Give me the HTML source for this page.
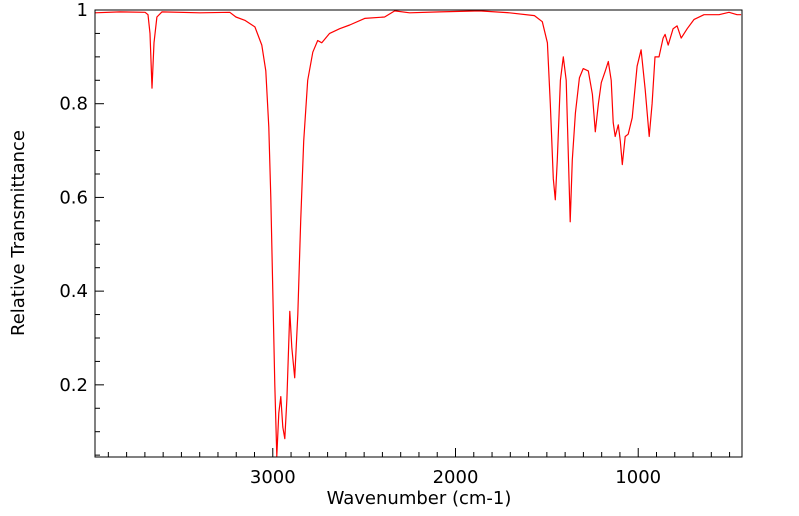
<!DOCTYPE html>
<html><head><meta charset="utf-8"><style>
html,body{margin:0;padding:0;background:#fff;width:799px;height:516px;overflow:hidden}
text{font-family:"DejaVu Sans","Liberation Sans",sans-serif;font-size:18px;fill:#000}
</style></head><body>
<svg id="chart" width="799" height="516" viewBox="0 0 799 516" xmlns="http://www.w3.org/2000/svg">
<g id="ticks"></g>
<g id="labels"></g>
<path id="spec" fill="none" stroke="#ff0000" stroke-width="1.2" stroke-linejoin="round"/>
<rect x="95" y="10" width="647" height="447" fill="none" stroke="#000" stroke-width="1"/>
<text x="419" y="504" text-anchor="middle">Wavenumber (cm-1)</text>
<text transform="translate(24,233) rotate(-90)" text-anchor="middle">Relative Transmittance</text>
</svg>
<script>
const wavenumbers=[3973,3836,3699,3683,3672,3661,3650,3634,3607,3399,3235,3202,3153,3098,3060,3038,3022,3011,3000,2989,2978,2967,2956,2945,2934,2923,2907,2896,2880,2863,2847,2831,2809,2781,2754,2732,2689,2634,2579,2497,2388,2333,2251,2087,1869,1705,1568,1525,1497,1481,1465,1454,1443,1426,1410,1394,1383,1372,1361,1344,1322,1301,1273,1251,1235,1218,1202,1180,1164,1148,1137,1126,1109,1098,1087,1071,1055,1033,1006,984,962,940,924,908,886,864,853,836,809,787,765,732,694,640,558,503,459,437];
const transmittance=[.994,.996,.995,.99,.95,.833,.93,.985,.996,.994,.995,.985,.978,.964,.925,.87,.75,.6,.4,.2,.048,.14,.175,.11,.085,.17,.357,.28,.215,.35,.55,.72,.85,.91,.935,.93,.95,.96,.968,.982,.985,.998,.994,.996,.998,.994,.988,.975,.93,.8,.64,.595,.68,.85,.9,.85,.7,.548,.68,.78,.855,.875,.87,.82,.74,.8,.845,.87,.89,.85,.76,.73,.755,.72,.67,.73,.735,.77,.88,.915,.83,.73,.8,.9,.9,.94,.948,.925,.96,.966,.94,.96,.98,.99,.99,.995,.99,.99];
const xTicks=[3000,2000,1000];
const yTicks=[0.2,0.4,0.6,0.8,1];
const yTickLabels=["0.2","0.4","0.6","0.8","1"];
const xMax=3973,xMin=432,yMin=0.046,yMax=1;
const L=95,R=742,T=10,B=457;
function sx(w){return L+(xMax-w)/(xMax-xMin)*(R-L);}
function sy(v){return B-(v-yMin)/(yMax-yMin)*(B-T);}
const NS="http://www.w3.org/2000/svg";
let d="";
for(let i=0;i<wavenumbers.length;i++){d+=(i?"L":"M")+sx(wavenumbers[i]).toFixed(1)+","+sy(transmittance[i]).toFixed(1);}
document.getElementById("spec").setAttribute("d",d);
const tg=document.getElementById("ticks"),lg=document.getElementById("labels");
function line(x1,y1,x2,y2){const l=document.createElementNS(NS,"line");l.setAttribute("x1",x1);l.setAttribute("y1",y1);l.setAttribute("x2",x2);l.setAttribute("y2",y2);l.setAttribute("stroke","#000");


tg.appendChild(l);}
for(let w=3900;w>=500;w-=100){const x=sx(w);const major=w%1000===0;line(x,B,x,B-(major?9:5));}
for(let v=0.05;v<=1.0001;v+=0.05){const y=sy(v);const major=Math.round(v*100)%20===0;line(L,y,L+(major?9:5),y);}
xTicks.forEach(w=>{const t=document.createElementNS(NS,"text");t.setAttribute("x",sx(w));t.setAttribute("y",483);t.setAttribute("text-anchor","middle");t.textContent=String(w);


lg.appendChild(t);});
yTicks.forEach((v,i)=>{const t=document.createElementNS(NS,"text");t.setAttribute("x",88);t.setAttribute("y",sy(v)+6);t.setAttribute("text-anchor","end");t.textContent=yTickLabels[i];


lg.appendChild(t);});
</script>
</body></html>
